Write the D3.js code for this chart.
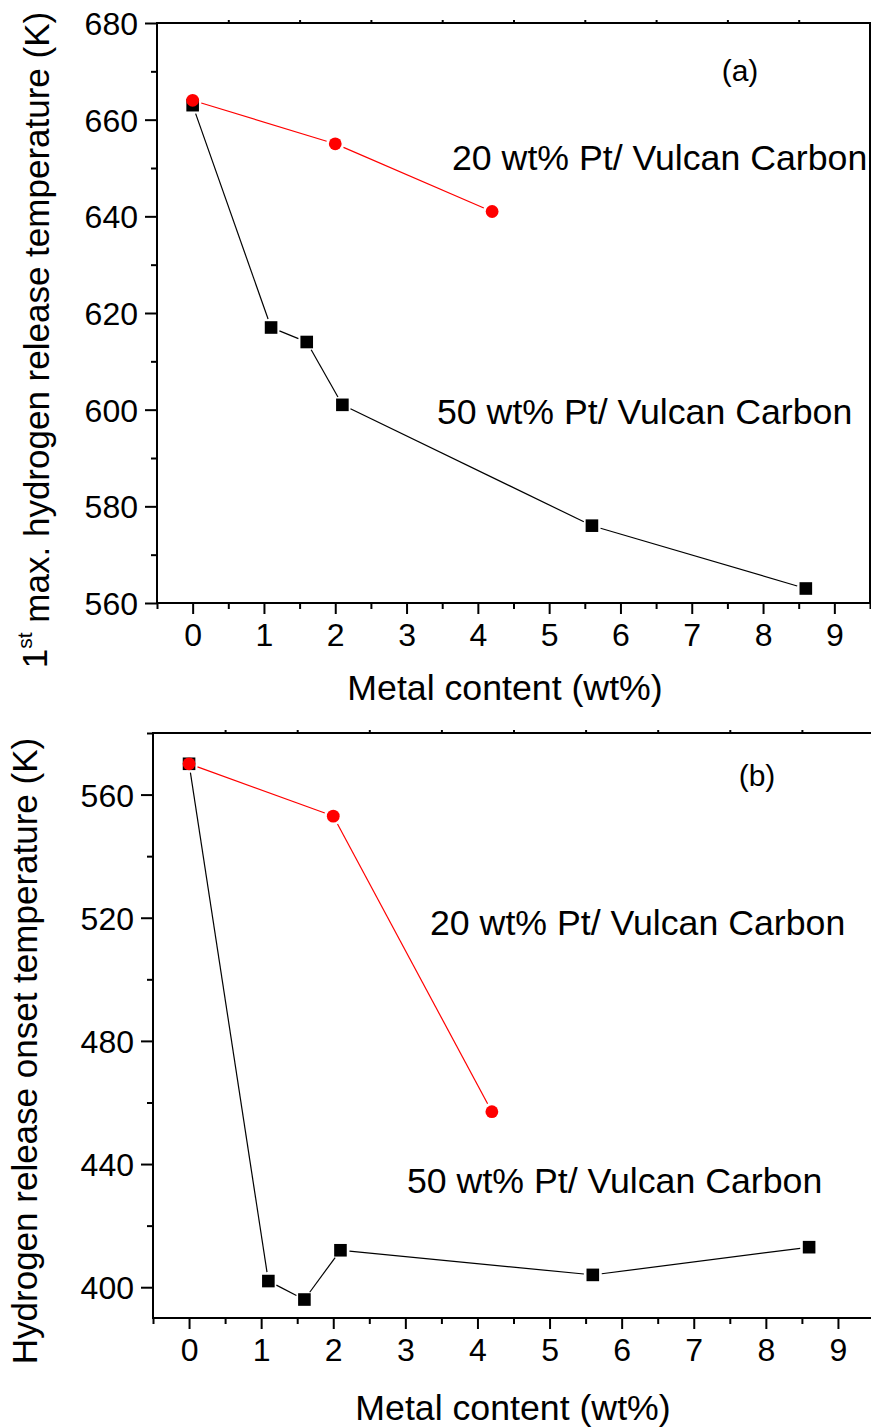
<!DOCTYPE html>
<html>
<head>
<meta charset="utf-8">
<script src="https://cdn.jsdelivr.net/npm/d3@7"></script>
<style>
  html, body { margin: 0; padding: 0; background: #fff; }
  svg { display: block; }
  text { font-family: "Liberation Sans", Arial, sans-serif; fill: #000; }
</style>
</head>
<body>
<svg id="chart" width="871" height="1427"></svg>
<script>
// Metal loading (wt%) for the two Pt/Vulcan catalysts
const metalPt50 = [0, 1.1, 1.6, 2.1, 5.6, 8.6];
const metalPt20 = [0, 2, 4.2];

// (a) first maximum hydrogen release temperature (K)
const peakPt50 = [663, 617, 614, 601, 576, 563];
const peakPt20 = [664, 655, 641];

// (b) hydrogen release onset temperature (K)
const onsetPt50 = [570, 402, 396, 412, 404, 413];
const onsetPt20 = [570, 553, 457];

// Axis ticks
const xMajorTicks = [0, 1, 2, 3, 4, 5, 6, 7, 8, 9];
const xMinorTicks = [-0.5, 0.5, 1.5, 2.5, 3.5, 4.5, 5.5, 6.5, 7.5, 8.5, 9.5];
const yMajorTicksA = [560, 580, 600, 620, 640, 660, 680];
const yMinorTicksA = [570, 590, 610, 630, 650, 670];
const yMajorTicksB = [400, 440, 480, 520, 560];
const yMinorTicksB = [420, 460, 500, 540, 580];

const xTitle = "Metal content (wt%)";
const label20 = "20 wt% Pt/ Vulcan Carbon";
const label50 = "50 wt% Pt/ Vulcan Carbon";

const svg = d3.select("#chart");

function drawPanel(p) {
  const g = svg.append("g");
  const x = d3.scaleLinear().domain([-0.5, 9.5]).range([p.left, p.right]);
  const y = d3.scaleLinear().domain(p.yDomain).range([p.bottom, p.top]);

  // bottom axis: major + minor ticks outward
  const bottomMinor = d3.axisBottom(x).tickValues(xMinorTicks).tickSize(6).tickFormat("");
  const bottomMajor = d3.axisBottom(x).tickValues(xMajorTicks).tickSize(11).tickPadding(8).tickFormat(d3.format("d"));
  const leftMinor = d3.axisLeft(y).tickValues(p.yMinor).tickSize(6).tickFormat("");
  const leftMajor = d3.axisLeft(y).tickValues(p.yMajor).tickSize(12).tickPadding(7).tickFormat(d3.format("d"));
  const topMinor = d3.axisTop(x).tickValues(xMinorTicks.slice(1, -1)).tickSize(3).tickFormat("");

  const styleAxis = sel => {
    sel.select(".domain").remove();
    sel.selectAll(".tick line").attr("stroke", "#000").attr("stroke-width", 2);
    sel.selectAll(".tick text").style("font-size", "32px").attr("fill", "#000");
  };

  g.append("g").attr("transform", `translate(0,${p.bottom})`).call(bottomMinor).call(styleAxis);
  g.append("g").attr("transform", `translate(0,${p.bottom})`).call(bottomMajor).call(styleAxis)
    .selectAll(".tick text").attr("dy", "0.74em");
  g.append("g").attr("transform", `translate(0,0)`).attr("transform", `translate(${p.left},0)`).call(leftMinor).call(styleAxis);
  g.append("g").attr("transform", `translate(${p.left},0)`).call(leftMajor).call(styleAxis)
    .selectAll(".tick text").attr("dy", "0.36em");
  g.append("g").attr("transform", `translate(0,${p.top})`).call(topMinor).call(styleAxis);

  // frame
  g.append("rect")
    .attr("x", p.left).attr("y", p.top)
    .attr("width", p.right - p.left).attr("height", p.bottom - p.top)
    .attr("fill", "none").attr("stroke", "#000").attr("stroke-width", 2);

  // connecting lines with a small gap around each symbol
  function series(xs, ys, color, symbol) {
    const pts = xs.map((d, i) => [x(d), y(ys[i])]);
    const gap = 9;
    const segs = [];
    for (let i = 0; i < pts.length - 1; i++) {
      const [x1, y1] = pts[i], [x2, y2] = pts[i + 1];
      const len = Math.hypot(x2 - x1, y2 - y1);
      if (len <= 2 * gap) continue;
      const ux = (x2 - x1) / len, uy = (y2 - y1) / len;
      segs.push([[x1 + ux * gap, y1 + uy * gap], [x2 - ux * gap, y2 - uy * gap]]);
    }
    g.append("g").selectAll("path").data(segs).join("path")
      .attr("d", d => d3.line()(d))
      .attr("stroke", color).attr("stroke-width", 1.2).attr("fill", "none");
    if (symbol === "square") {
      g.append("g").selectAll("rect").data(pts).join("rect")
        .attr("x", d => d[0] - 6.3).attr("y", d => d[1] - 6.3)
        .attr("width", 12.6).attr("height", 12.6).attr("fill", color);
    } else {
      g.append("g").selectAll("circle").data(pts).join("circle")
        .attr("cx", d => d[0]).attr("cy", d => d[1]).attr("r", 6.4).attr("fill", color);
    }
  }
  series(metalPt50, p.y50, "#000", "square");
  series(metalPt20, p.y20, "#ff0000", "circle");

  // axis titles
  g.append("text").attr("x", p.xTitleX).attr("y", p.xTitleY)
    .attr("text-anchor", "middle").style("font-size", "35.7px").text(xTitle);
  const yt = g.append("text")
    .attr("transform", `translate(${p.yTitleX},${p.yTitleY}) rotate(-90)`)
    .attr("text-anchor", "middle").style("font-size", "35px");
  p.yTitle(yt);

  // annotations
  g.append("text").attr("x", p.tagX).attr("y", p.tagY).attr("text-anchor", "middle")
    .style("font-size", "30px").text(p.tag);
  g.append("text").attr("x", p.l20[0]).attr("y", p.l20[1]).style("font-size", "35.7px").text(label20);
  g.append("text").attr("x", p.l50[0]).attr("y", p.l50[1]).style("font-size", "35.7px").text(label50);
}

drawPanel({
  left: 157, right: 870, top: 23, bottom: 603,
  yDomain: [560, 680], yMajor: yMajorTicksA, yMinor: yMinorTicksA,
  y50: peakPt50, y20: peakPt20,
  xTitleX: 505, xTitleY: 700,
  yTitleX: 47, yTitleY: 340,
  yTitle: t => {
    t.append("tspan").text("1");
    t.append("tspan").attr("dy", "-0.7em").style("font-size", "21px").text("st");
    t.append("tspan").attr("dy", "0.47em").text(" max. hydrogen release temperature (K)");
  },
  tag: "(a)", tagX: 740, tagY: 81,
  l20: [452, 170], l50: [437, 424]
});

drawPanel({
  left: 153, right: 874, top: 733, bottom: 1318,
  yDomain: [390, 580], yMajor: yMajorTicksB, yMinor: yMinorTicksB,
  y50: onsetPt50, y20: onsetPt20,
  xTitleX: 513, xTitleY: 1420,
  yTitleX: 37, yTitleY: 1051,
  yTitle: t => t.text("Hydrogen release onset temperature (K)"),
  tag: "(b)", tagX: 757, tagY: 786,
  l20: [430, 935], l50: [407, 1193]
});
</script>
</body>
</html>
